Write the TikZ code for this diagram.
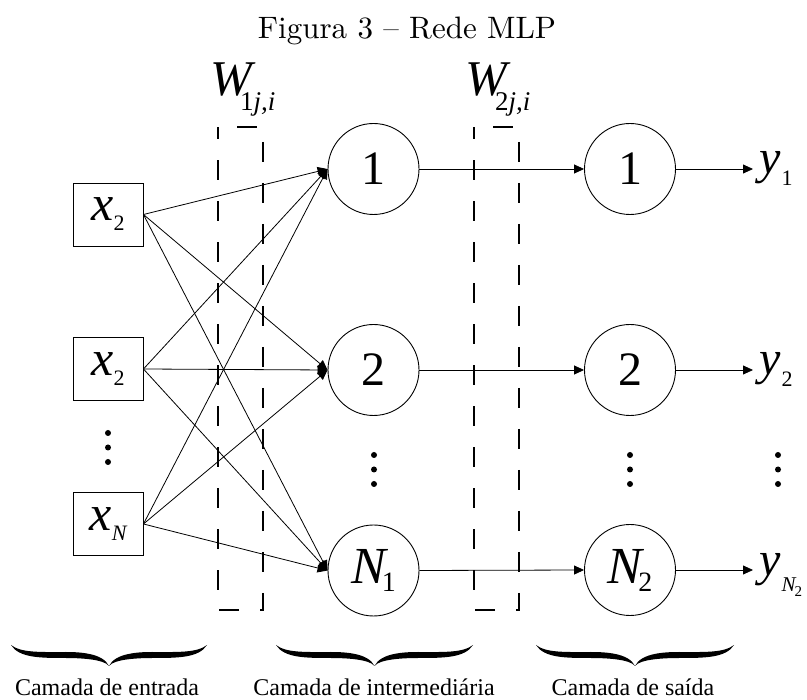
\documentclass[tikz,border=0pt]{standalone}
\usepackage{fontspec}
\newfontfamily\tnr{Liberation Serif}
\newfontfamily\tnri{Liberation Serif Italic}
\usetikzlibrary{arrows.meta,calc}
\newcommand\fs[1]{\fontsize{#1}{#1}\selectfont}
\newcommand\mybrace[3]{%
  \pgfmathsetmacro\bC{(#1+#2)/2}%
  \fill (#1,#3) .. controls (#1+8,#3+13) and (#1+30,#3+13) .. (#1+55,#3+13)
    .. controls (\bC-30,#3+13) and (\bC-5,#3+14) .. (\bC,#3+21)
    .. controls (\bC+5,#3+14) and (\bC+30,#3+13) .. (#2-55,#3+13)
    .. controls (#2-30,#3+13) and (#2-8,#3+13) .. (#2,#3)
    .. controls (#2-10,#3+8) and (#2-30,#3+7) .. (#2-55,#3+7)
    .. controls (\bC+30,#3+7) and (\bC+6,#3+8) .. (\bC,#3+21)
    .. controls (\bC-6,#3+8) and (\bC-30,#3+7) .. (#1+55,#3+7)
    .. controls (#1+30,#3+7) and (#1+10,#3+8) .. (#1,#3) -- cycle;}
\begin{document}
\begin{tikzpicture}[x=1pt,y=-1pt,
  inbox/.style={draw, line width=0.9pt, minimum width=70pt, minimum height=63pt, inner sep=0pt, font=\tnr},
  neuron/.style={draw, circle, line width=0.9pt, minimum size=91pt, inner sep=0pt, font=\tnr},
  arr/.style={line width=0.8pt, -{Triangle[length=10pt,width=9pt]}},
  dashbox/.style={line width=1.4pt, dash pattern=on 20pt off 21pt, dash phase=22pt},
  ylab/.style={inner xsep=6pt, inner ysep=0pt, font=\tnr},
  lay/.style={font=\tnr\fs{24}, anchor=base, inner sep=0pt}]
\useasboundingbox (0,0) rectangle (807,700);

% title
\node[anchor=base, inner sep=0pt] (title) at (407,39) {\scalebox{3.1}{\fs{10}Figura 3 -- Rede MLP}};

% weight labels
\node[anchor=base, font=\tnr, inner sep=0pt] (w1) at (243,96) {{\fs{50}\tnri W}\kern-12pt\raisebox{-15pt}{\fs{27}1\tnri j,i}};
\node[anchor=base, font=\tnr, inner sep=0pt] (w2) at (498,96) {{\fs{50}\tnri W}\kern-12pt\raisebox{-15pt}{\fs{27}2\tnri j,i}};

% dashed boxes
\draw[dashbox] (218,127) -- (263,127) -- (263,610) -- (218,610) -- cycle;
\draw[dashbox] (474,127) -- (519,127) -- (519,610) -- (474,610) -- cycle;

% input nodes
\node[inbox] (i1) at (108,214.5) {{\fs{50}\tnri x}\raisebox{-10pt}{\fs{22}2}};
\node[inbox] (i2) at (108,369) {{\fs{50}\tnri x}\raisebox{-10pt}{\fs{22}2}};
\node[inbox] (i3) at (108,524) {{\fs{50}\tnri x}\raisebox{-10pt}{\fs{22}\tnri N}};

% hidden nodes
\node[neuron] (h1) at (373.5,169) {\fs{48}1};
\node[neuron] (h2) at (373.5,370) {\fs{48}2};
\node[neuron] (h3) at (373.5,570.5) {{\fs{52}\tnri N}\kern-4pt\raisebox{-8pt}{\fs{28}1}};

% output nodes
\node[neuron] (o1) at (630,169) {\fs{48}1};
\node[neuron] (o2) at (630,370) {\fs{48}2};
\node[neuron] (o3) at (630,570) {{\fs{52}\tnri N}\kern-4pt\raisebox{-8pt}{\fs{28}2}};

% output labels
\node[ylab, anchor=base west] (y1) at (753,174) {{\fs{48}\tnri y}\kern1pt\raisebox{-12pt}{\fs{22}1}};
\node[ylab, anchor=base west] (y2) at (753,375) {{\fs{48}\tnri y}\kern1pt\raisebox{-12pt}{\fs{22}2}};
\node[ylab, anchor=base west] (y3) at (753,576) {{\fs{48}\tnri y}\kern1pt\raisebox{-16pt}{\fs{21}\tnri N}\kern-1pt\raisebox{-21pt}{\fs{15}2}};

% connections input -> hidden
\foreach \i in {i1,i2,i3}{
  \foreach \h in {h1,h2,h3}{
    \draw[arr] (\i.east) -- (\h.west);
  }
}
% hidden -> output
\draw[arr] (h1.east) -- (o1.west);
\draw[arr] (h2.east) -- (o2.west);
\draw[arr] (h3.east) -- (o3.west);
% output -> labels
\draw[arr] (o1.east) -- (o1.east -| y1.west);
\draw[arr] (o2.east) -- (o2.east -| y2.west);
\draw[arr] (o3.east) -- (o3.east -| y3.west);

% vertical dots
\foreach \y in {433,447.5,462} \fill (108,\y) circle (3pt);
\foreach \y in {455,469.5,484} {
  \fill (374,\y) circle (3pt);
  \fill (630,\y) circle (3pt);
  \fill (778,\y) circle (3pt);
}

% braces
\mybrace{11}{207}{645}
\mybrace{276}{473}{645}
\mybrace{536}{734}{645}

% layer labels
\node[lay] (l1) at (107,696) {Camada de entrada};
\node[lay] (l2) at (374,696) {Camada de intermediária};
\node[lay] (l3) at (633,696) {Camada de saída};
\end{tikzpicture}
\end{document}
